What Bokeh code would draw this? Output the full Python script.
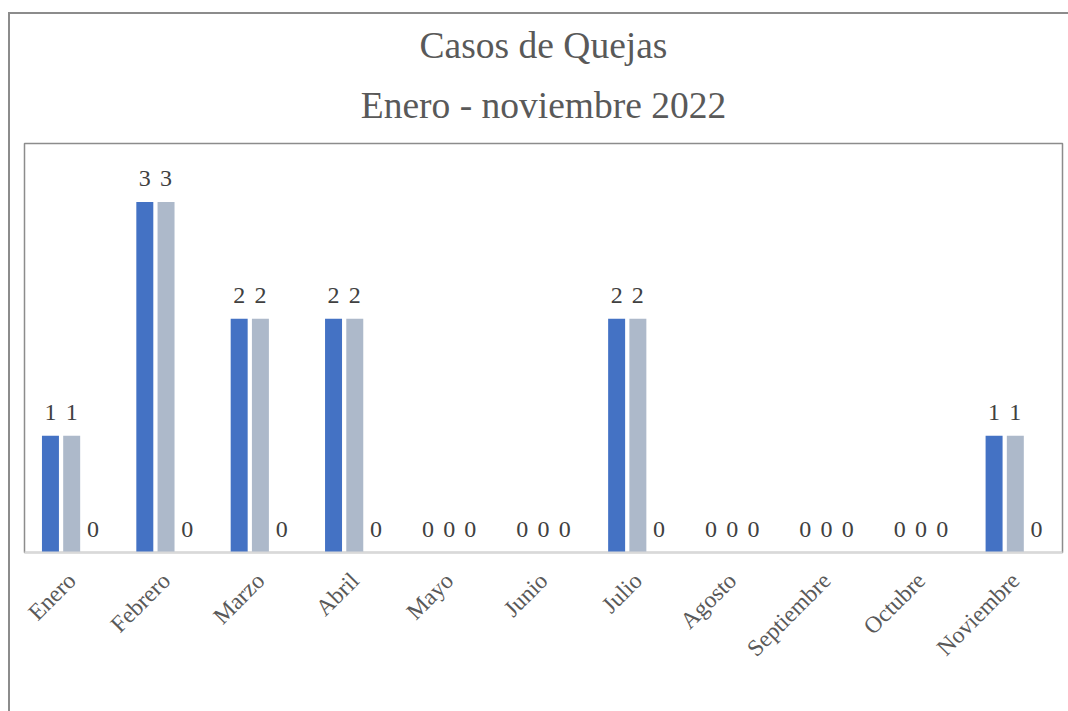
from bokeh.plotting import figure
from bokeh.models import (ColumnDataSource, FactorRange, Range1d, LabelSet, Legend,
                          LegendItem, Title)
from bokeh.transform import dodge
from bokeh.embed import file_html
from bokeh.resources import INLINE

months = ["Enero", "Febrero", "Marzo", "Abril", "Mayo", "Junio", "Julio",
          "Agosto", "Septiembre", "Octubre", "Noviembre"]
recibidos = [1, 3, 2, 2, 0, 0, 2, 0, 0, 0, 1]
concluidos = [1, 3, 2, 2, 0, 0, 2, 0, 0, 0, 1]
en_proceso = [0, 0, 0, 0, 0, 0, 0, 0, 0, 0, 0]
series_names = ["Recibidos", "Concluidos", "En Proceso"]
colors = ["#4472C4", "#ADB9CA", "#A5A5A5"]
title_main = "Casos de Quejas"
title_sub = "Enero - noviembre 2022"

FONT = "Liberation Serif"

source = ColumnDataSource(dict(
    month=months,
    rec=recibidos, con=concluidos, pro=en_proceso,
    rec_t=[str(v) for v in recibidos],
    con_t=[str(v) for v in concluidos],
    pro_t=[str(v) for v in en_proceso],
))

p = figure(
    x_range=FactorRange(*months, range_padding=0),
    y_range=Range1d(0, 3.5),
    frame_width=1038, frame_height=409,
    output_backend="svg", toolbar_location=None,
    min_border_left=14, min_border_right=6, min_border_top=129, min_border_bottom=0,
    styles={"margin-left": "8px", "margin-top": "12px",
            "border-left": "2px solid #8C8C8C", "border-top": "2px solid #8C8C8C"},
)
p.title = None
p.outline_line_color = "#8C8C8C"
p.outline_line_width = 1.5
p.xgrid.visible = False
p.ygrid.visible = False
p.yaxis.visible = False

offsets = [-0.225, 0.0, 0.225]
fields = ["rec", "con", "pro"]
renderers = []
for f, off, col in zip(fields, offsets, colors):
    r = p.vbar(x=dodge("month", off, range=p.x_range), top=f, width=0.18,
               source=source, fill_color=col, line_color=None)
    renderers.append(r)
    lbl = LabelSet(x=dodge("month", off, range=p.x_range), y=f, text=f + "_t",
                   source=source, text_align="center", text_baseline="alphabetic",
                   y_offset=16, text_font=FONT, text_font_size="24px",
                   text_color="#404040")
    p.add_layout(lbl)

ax = p.xaxis[0]
ax.axis_line_color = "#D9D9D9"
ax.axis_line_width = 2
ax.major_tick_line_color = None
ax.minor_tick_line_color = None
ax.major_label_orientation = 0.785398
ax.major_label_text_font = FONT
ax.major_label_text_font_size = "23.5px"
ax.major_label_text_color = "#595959"
ax.major_label_standoff = 18

legend = Legend(
    items=[LegendItem(label=n, renderers=[r]) for n, r in zip(series_names, renderers)],
    orientation="horizontal", location=(331, 42),
    label_text_font=FONT, label_text_font_size="24px", label_text_color="#595959",
    glyph_width=13, glyph_height=12, label_standoff=4, spacing=16,
    border_line_color=None, background_fill_alpha=0, padding=0, margin=0,
)
p.add_layout(legend, "below")

p.add_layout(Title(text=title_sub, align="center", text_font=FONT,
                   text_font_size="37.5px", text_font_style="normal",
                   text_color="#595959", standoff=35), "above")
p.add_layout(Title(text=title_main, align="center", text_font=FONT,
                   text_font_size="37.5px", text_font_style="normal",
                   text_line_height=0.9,
                   text_color="#595959", standoff=0), "above")

open("out.html", "w").write(file_html(p, INLINE))
